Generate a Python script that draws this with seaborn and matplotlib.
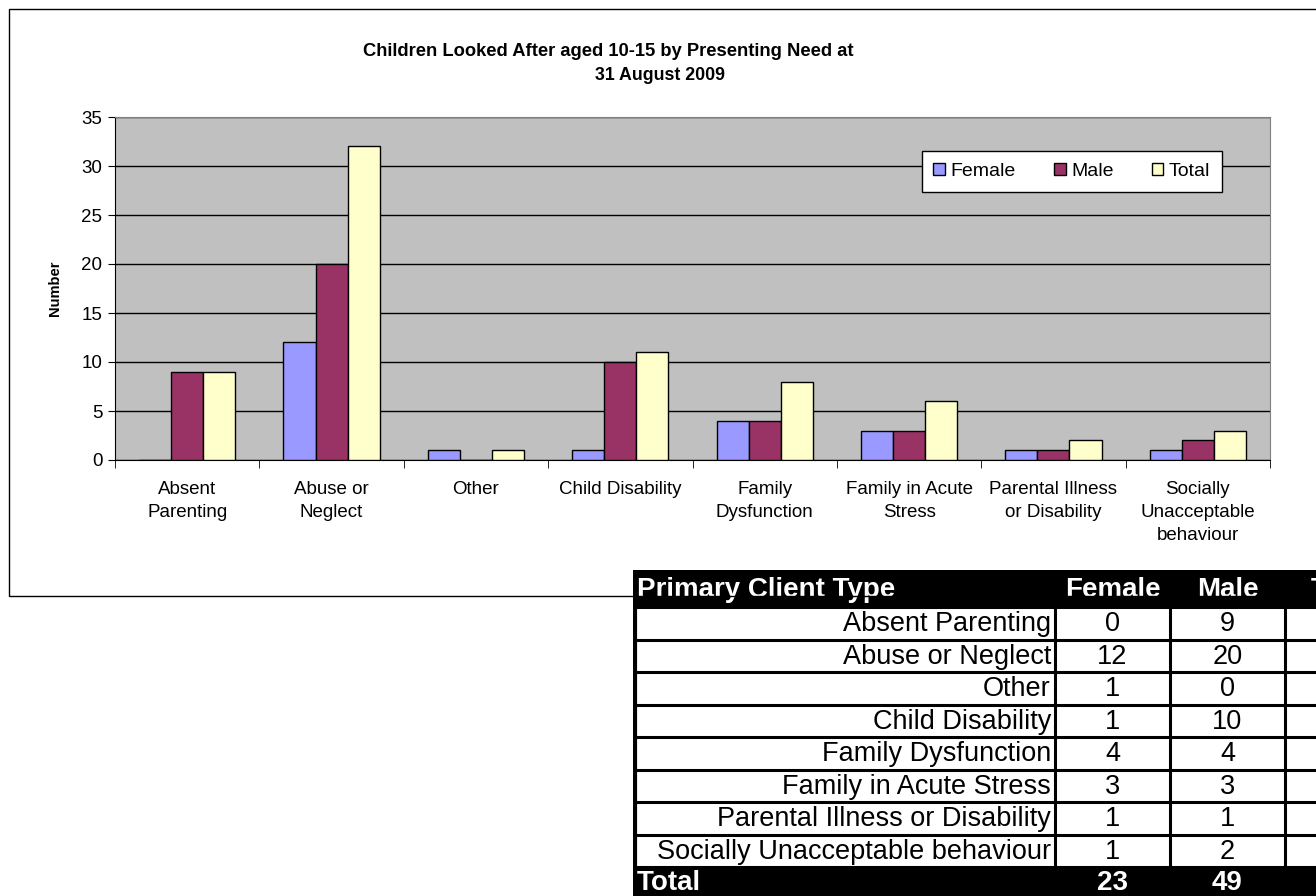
import matplotlib.pyplot as plt
import matplotlib.patches as mpatches
import pandas as pd
import seaborn as sns

needs = [
    "Absent Parenting",
    "Abuse or Neglect",
    "Other",
    "Child Disability",
    "Family Dysfunction",
    "Family in Acute Stress",
    "Parental Illness or Disability",
    "Socially Unacceptable behaviour",
]
tick_labels = [
    "Absent\nParenting",
    "Abuse or\nNeglect",
    "Other",
    "Child Disability",
    "Family\nDysfunction",
    "Family in Acute\nStress",
    "Parental Illness\nor Disability",
    "Socially\nUnacceptable\nbehaviour",
]
female = [0, 12, 1, 1, 4, 3, 1, 1]
male = [9, 20, 0, 10, 4, 3, 1, 2]
total = [9, 32, 1, 11, 8, 6, 2, 3]
series = ["Female", "Male", "Total"]
colors = ["#9999FF", "#993366", "#FFFFCC"]
col_totals = [23, 49, 72]

plt.rcParams["font.family"] = ["Liberation Sans", "DejaVu Sans"]

df = pd.DataFrame({
    "need": needs * 3,
    "series": ["Female"] * 8 + ["Male"] * 8 + ["Total"] * 8,
    "count": female + male + total,
})

W, H = 1316, 896
fig = plt.figure(figsize=(W / 100, H / 100), dpi=100)

# chart frame (runs off the right edge like the original)
fig.add_artist(mpatches.Rectangle((9 / W, 1 - 596 / H), 2, (596 - 9) / H,
                                  transform=fig.transFigure, fill=False,
                                  edgecolor="black", lw=1))

ax = fig.add_axes([115 / W, 1 - 460 / H, (1270 - 115) / W, (460 - 117) / H])
ax.set_facecolor("#C0C0C0")
sns.barplot(df, x="need", y="count", hue="series", order=needs,
            hue_order=series, palette=colors, width=2 / 3, errorbar=None,
            saturation=1, edgecolor="black", linewidth=1, ax=ax, zorder=3)

ax.set_ylim(0, 35)
ax.set_xlim(-0.5, 7.5)
ax.set_yticks(range(0, 36, 5))
ax.grid(axis="y", color="black", lw=1, zorder=0)
ax.set_axisbelow(True)
ax.set_xticks(range(8))
ax.set_xticklabels(tick_labels, fontsize=13.5, linespacing=1.45)
ax.tick_params(axis="x", length=0, pad=15)
ax.set_xticks([i - 0.5 for i in range(9)], minor=True)
ax.tick_params(axis="x", which="minor", length=6, color="black")
ax.tick_params(axis="y", length=5, labelsize=13.5, pad=4)
ax.set_xlabel("")
ax.set_ylabel("Number", fontsize=10.5, fontweight="bold", labelpad=14)
for s in ["top", "right"]:
    ax.spines[s].set_color("#808080")

ax.legend(loc="center", ncol=3, bbox_to_anchor=(0.690, 0.749, 0.277, 0.184),
          mode="expand", fontsize=14, frameon=True, fancybox=False,
          edgecolor="black", framealpha=1, handlelength=0.6, handleheight=0.6,
          handletextpad=0.3, borderpad=0.6)
ax.get_legend().get_frame().set_linewidth(1)

fig.text(363 / W, 1 - 52 / H, "Children Looked After aged 10-15 by Presenting Need at",
         ha="left", va="center", fontsize=13.2, fontweight="bold")
fig.text(660 / W, 1 - 76 / H, "31 August 2009",
         ha="center", va="center", fontsize=12.8, fontweight="bold")

# data table below the chart
tx0, ty0 = 633, 570
axt = fig.add_axes([tx0 / W, 0, 1 - tx0 / W, (H - ty0) / H])
axt.set_xlim(tx0, W)
axt.set_ylim(H, ty0)
axt.axis("off")

header_bottom = 607
row_h = 32.5
total_top = header_bottom + row_h * len(needs)
col_edges = [633, 1055, 1170, 1285, 1400]
col_centers = [(col_edges[i] + col_edges[i + 1]) / 2 for i in range(1, 4)]

axt.add_patch(mpatches.Rectangle((tx0, ty0), 800, header_bottom - ty0, color="black"))
axt.add_patch(mpatches.Rectangle((tx0, total_top), 800, 60, color="black"))
for i in range(len(needs) + 1):
    axt.plot([tx0, 1400], [header_bottom + i * row_h] * 2, color="black", lw=2.2)
for x in col_edges[1:4]:
    axt.plot([x, x], [header_bottom, total_top], color="black", lw=2.2)
axt.plot([tx0 + 1.5, tx0 + 1.5], [ty0, 900], color="black", lw=3)

axt.text(tx0 + 4, (ty0 + header_bottom) / 2 + 1, "Primary Client Type", color="white",
         fontsize=20, fontweight="bold", ha="left", va="center")
for cx, name in zip(col_centers, series):
    axt.text(cx, (ty0 + header_bottom) / 2 + 1, name, color="white", fontsize=20,
             fontweight="bold", ha="center", va="center")

for i, name in enumerate(needs):
    cy = header_bottom + (i + 0.5) * row_h + 1
    axt.text(col_edges[1] - 4, cy, name, fontsize=19.5, ha="right", va="center")
    for cx, v in zip(col_centers, (female[i], male[i], total[i])):
        axt.text(cx, cy, str(v), fontsize=19.5, ha="center", va="center")

cy = total_top + 16
axt.text(tx0 + 4, cy, "Total", color="white", fontsize=20, fontweight="bold",
         ha="left", va="center")
for cx, v in zip(col_centers, col_totals):
    axt.text(cx, cy, str(v), color="white", fontsize=20, fontweight="bold",
             ha="center", va="center")

fig.savefig("out.png", dpi=100)
